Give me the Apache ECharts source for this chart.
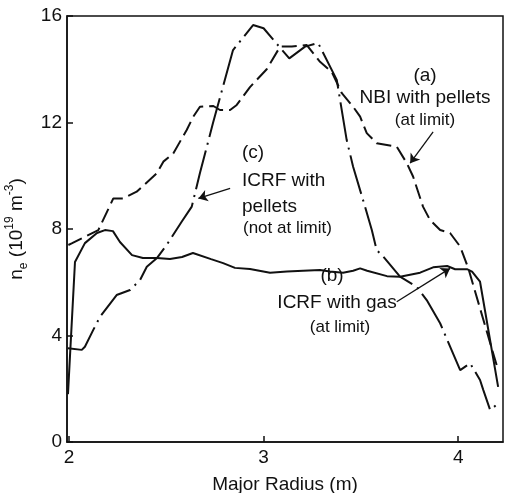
<!DOCTYPE html>
<html>
<head>
<meta charset="utf-8">
<script src="https://cdn.jsdelivr.net/npm/echarts@6/dist/echarts.min.js"></script>
<style>html,body{margin:0;padding:0;background:#fff}#c{width:505px;height:493px}</style>
</head>
<body>
<div id="c"></div>
<script>
// ---- data ----
const xTicks = [2, 3, 4];
const yTicks = [0, 4, 8, 12, 16];

const nbiR = [1.997,2.014,2.066,2.151,2.228,2.279,2.348,2.451,2.485,2.536,2.605,2.639,2.673,2.742,2.776,2.828,2.862,2.93,3.016,3.085,3.145,3.222,3.29,3.35,3.402,3.46,3.496,3.53,3.581,3.684,3.736,3.768,3.819,3.855,3.907,3.958,4.01,4.052,4.2];
const nbiN = [7.4,7.46,7.65,7.96,9.15,9.15,9.4,10.09,10.53,10.84,11.72,12.22,12.59,12.62,12.47,12.47,12.66,13.33,14.0,14.85,14.85,14.91,14.28,13.9,13.1,12.59,12.22,11.6,11.22,11.09,10.47,9.97,8.84,8.34,7.96,7.85,7.34,6.52,2.82];

const gasR = [1.995,2.031,2.082,2.144,2.185,2.226,2.262,2.324,2.38,2.452,2.519,2.581,2.637,2.73,2.792,2.853,2.93,3.033,3.12,3.203,3.29,3.341,3.408,3.46,3.496,3.532,3.634,3.701,3.804,3.871,3.943,3.984,4.045,4.071,4.112,4.205];
const gasN = [1.8,6.76,7.47,7.85,7.96,7.92,7.51,7.02,6.91,6.91,6.87,6.95,7.1,6.87,6.72,6.54,6.5,6.36,6.4,6.43,6.46,6.4,6.36,6.43,6.52,6.43,6.23,6.21,6.36,6.56,6.61,6.49,6.49,6.4,6.02,2.07];

const pelR = [1.995,2.066,2.082,2.125,2.16,2.245,2.314,2.365,2.4,2.451,2.502,2.579,2.631,2.673,2.74,2.843,2.946,3.0,3.059,3.132,3.213,3.28,3.376,3.427,3.46,3.521,3.556,3.581,3.615,3.701,3.787,3.838,3.907,4.01,4.061,4.112,4.129,4.164,4.206];
const pelN = [3.52,3.46,3.58,4.21,4.71,5.52,5.71,6.08,6.58,6.9,7.4,8.27,8.84,10.1,11.98,14.72,15.66,15.54,15.03,14.41,14.85,14.99,13.6,11.34,10.34,8.84,7.96,7.21,6.96,6.21,5.83,5.33,4.46,2.7,2.96,2.33,1.95,1.2,1.45];

// annotation arrows: [tail, head] in data coordinates
const arrowA = [[3.871, 11.65], [3.753, 10.47]];
const arrowB = [[3.684, 5.27], [3.958, 6.52]];
const arrowC = [[2.828, 9.53], [2.665, 9.15]];

const zip = (xs, ys) => xs.map((x, i) => [x, ys[i]]);

const FONT = '"Liberation Sans", Arial, Helvetica, sans-serif';
const chart = echarts.init(document.getElementById('c'));
const arrowLine = (a) => [{ coord: a[0] }, { coord: a[1] }];

const txt = (t, x, y, size, align) => ({
  type: 'text', x: x, y: y, silent: true,
  style: { text: t, fill: '#111', font: size + 'px ' + FONT, align: align || 'center', verticalAlign: 'middle' }
});

chart.setOption({
  animation: false,
  backgroundColor: '#fff',
  grid: { left: 67, right: 2, top: 16, bottom: 51, show: true, borderColor: '#111', borderWidth: 1.5,
          backgroundColor: 'transparent', containLabel: false, outerBoundsMode: 'none' },
  xAxis: {
    type: 'value', min: 1.99, max: 4.23,
    name: 'Major Radius (m)', nameLocation: 'middle', nameGap: 33,
    nameTextStyle: { fontFamily: FONT, fontSize: 19, color: '#111' },
    axisLine: { show: true, lineStyle: { color: '#111', width: 1.5 } },
    axisTick: { show: true, inside: true, length: 6, customValues: xTicks, lineStyle: { color: '#111', width: 1.5 } },
    axisLabel: { customValues: xTicks, fontFamily: FONT, fontSize: 19, color: '#111', margin: 6 },
    splitLine: { show: false }
  },
  yAxis: {
    type: 'value', min: 0, max: 16, interval: 4,
    name: '{t|n}{sub|e}{t| (10}{sup|19}{t| m}{sup|-3}{t|)}',
    nameLocation: 'middle', nameGap: 36,
    nameTextStyle: {
      color: '#111',
      rich: {
        t: { fontFamily: FONT, fontSize: 19, color: '#111', lineHeight: 26, verticalAlign: 'middle' },
        sub: { fontFamily: FONT, fontSize: 12, color: '#111', lineHeight: 26, verticalAlign: 'bottom' },
        sup: { fontFamily: FONT, fontSize: 12, color: '#111', lineHeight: 26, verticalAlign: 'top' }
      }
    },
    axisLine: { show: true, lineStyle: { color: '#111', width: 1.5 } },
    axisTick: { show: true, inside: true, length: 6, lineStyle: { color: '#111', width: 1.5 } },
    axisLabel: { fontFamily: FONT, fontSize: 19, color: '#111', margin: 5 },
    splitLine: { show: false }
  },
  series: [
    { name: 'NBI with pellets', type: 'line', data: zip(nbiR, nbiN), showSymbol: false, symbol: 'none',
      lineStyle: { color: '#111', width: 2, type: [15, 6] } },
    { name: 'ICRF with gas', type: 'line', data: zip(gasR, gasN), showSymbol: false, symbol: 'none',
      lineStyle: { color: '#111', width: 2, type: 'solid' } },
    { name: 'ICRF with pellets', type: 'line', data: zip(pelR, pelN), showSymbol: false, symbol: 'none',
      lineStyle: { color: '#111', width: 2, type: [40, 6, 2, 6] } },
    { type: 'line', data: [], silent: true,
      markLine: {
        silent: true, symbol: ['none', 'arrow'], symbolSize: 9, label: { show: false },
        lineStyle: { color: '#111', width: 1.3, type: 'solid' },
        data: [arrowLine(arrowA), arrowLine(arrowB), arrowLine(arrowC)]
      } }
  ],
  graphic: [
    txt('(a)', 425, 76, 19),
    txt('NBI with pellets', 425, 98, 19),
    txt('(at limit)', 425, 120, 17),
    txt('(c)', 242, 153, 19, 'left'),
    txt('ICRF with', 242, 181, 19, 'left'),
    txt('pellets', 242, 207, 19, 'left'),
    txt('(not at limit)', 243, 228, 17, 'left'),
    txt('(b)', 332, 276, 19),
    txt('ICRF with gas', 337, 303, 19),
    txt('(at limit)', 340, 327, 17)
  ]
});
</script>
</body>
</html>
